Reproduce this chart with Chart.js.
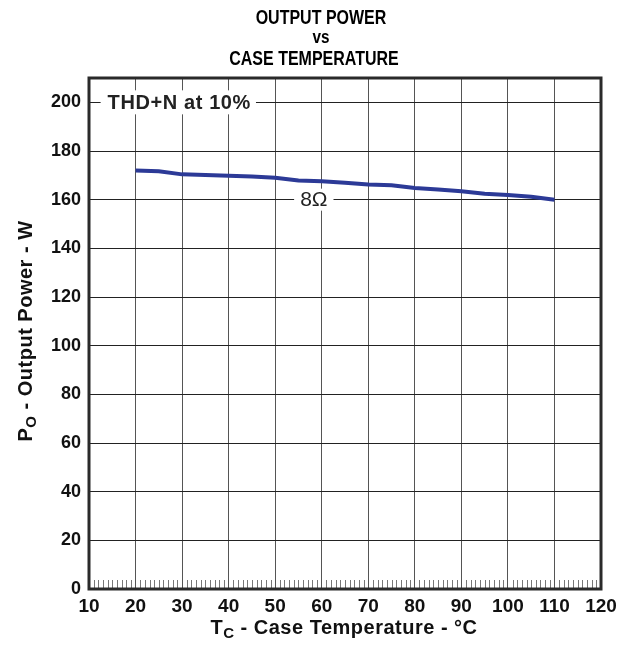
<!DOCTYPE html>
<html>
<head>
<meta charset="utf-8">
<script src="https://cdn.jsdelivr.net/npm/chart.js@4.4.0/dist/chart.umd.min.js"></script>
<style>
  body { margin: 0; background: #fff; }
  canvas { display: block; }
</style>
</head>
<body>
<canvas id="powerChart" width="628" height="646"></canvas>
<script>
// values
const caseTemp = [20, 25, 30, 35, 40, 45, 50, 55, 60, 65, 70, 75, 80, 85, 90, 95, 100, 105, 110];
const outputPower8 = [172, 171.7, 170.4, 170.1, 169.8, 169.5, 169, 167.9, 167.6, 167, 166.2, 165.9, 164.8, 164.2, 163.5, 162.4, 161.9, 161.2, 160];
const xTicks = [10, 20, 30, 40, 50, 60, 70, 80, 90, 100, 110, 120];
const yTicks = [0, 20, 40, 60, 80, 100, 120, 140, 160, 180, 200];
const titleLines = ['OUTPUT POWER', 'vs', 'CASE TEMPERATURE'];

const FONT = '"Liberation Sans", Arial, Helvetica, sans-serif';

// condensed bold text, like the narrow face of the original
function narrowText(ctx, text, x, y, size, squeeze) {
    ctx.save();
    ctx.font = 'bold ' + size + 'px ' + FONT;
    ctx.textAlign = 'center';
    ctx.textBaseline = 'middle';
    ctx.translate(x, y);
    ctx.scale(squeeze, 1);
    ctx.fillText(text, 0, 0);
    ctx.restore();
}

// draws title, axis titles (with subscripts), minor ticks, frame and labels
const decorations = {
    id: 'decorations',
    afterDatasetsDraw(chart) {
        const ctx = chart.ctx;
        const area = chart.chartArea;
        const xs = chart.scales.x;
        const ys = chart.scales.y;
        ctx.save();

        // minor ticks along the bottom
        ctx.strokeStyle = '#777';
        ctx.lineWidth = 1;
        for (let v = 11; v < 120; v++) {
            if (v % 10 === 0) continue;
            const px = Math.round(xs.getPixelForValue(v)) + 0.5;
            ctx.beginPath();
            ctx.moveTo(px, area.bottom);
            ctx.lineTo(px, area.bottom - 9);
            ctx.stroke();
        }

        // frame
        ctx.strokeStyle = '#2a2a2a';
        ctx.lineWidth = 3;
        ctx.strokeRect(area.left, area.top, area.right - area.left, area.bottom - area.top);

        // "THD+N at 10%" label on the 200 line
        ctx.font = 'bold 20px ' + FONT;
        ctx.letterSpacing = '0.6px';
        ctx.textBaseline = 'middle';
        ctx.textAlign = 'left';
        const lx = xs.getPixelForValue(14);
        const ly = ys.getPixelForValue(200);
        const lw = ctx.measureText('THD+N at 10%').width;
        ctx.fillStyle = '#fff';
        ctx.fillRect(lx - 7, ly - 12, lw + 12, 24);
        ctx.fillStyle = '#222';
        ctx.fillText('THD+N at 10%', lx, ly + 1);
        ctx.letterSpacing = '0px';

        // "8Ω" label on the 160 line
        ctx.font = '21px ' + FONT;
        ctx.textAlign = 'center';
        const ox = xs.getPixelForValue(58.3);
        const oy = ys.getPixelForValue(160);
        const ow = ctx.measureText('8Ω').width;
        ctx.fillStyle = '#fff';
        ctx.fillRect(ox - ow / 2 - 6, oy - 11, ow + 12, 22);
        ctx.fillStyle = '#222';
        ctx.fillText('8Ω', ox, oy + 1);

        // chart title
        ctx.fillStyle = '#000';
        narrowText(ctx, titleLines[0], 321, 18, 20, 0.8);
        narrowText(ctx, titleLines[1], 321, 38, 18, 0.85);
        narrowText(ctx, titleLines[2], 314, 59, 20, 0.8);

        // x axis title with subscript
        drawSubTitle(ctx, 'T', 'C', ' - Case Temperature - °C', 344, 628);

        // y axis title, rotated
        ctx.save();
        ctx.translate(26, 331);
        ctx.rotate(-Math.PI / 2);
        drawSubTitle(ctx, 'P', 'O', ' - Output Power - W', 0, 0);
        ctx.restore();

        ctx.restore();
    }
};

function drawSubTitle(ctx, main, sub, rest, cx, cy) {
    const big = 'bold 20px ' + FONT;
    const small = 'bold 15px ' + FONT;
    ctx.letterSpacing = '0.5px';
    ctx.font = big;
    const w1 = ctx.measureText(main).width;
    const w3 = ctx.measureText(rest).width;
    ctx.font = small;
    const w2 = ctx.measureText(sub).width;
    let x = cx - (w1 + w2 + w3) / 2;
    ctx.textAlign = 'left';
    ctx.textBaseline = 'middle';
    ctx.fillStyle = '#111';
    ctx.font = big;
    ctx.fillText(main, x, cy);
    x += w1;
    ctx.font = small;
    ctx.fillText(sub, x, cy + 6);
    x += w2;
    ctx.font = big;
    ctx.fillText(rest, x, cy);
    ctx.letterSpacing = '0px';
}

const ctx = document.getElementById('powerChart').getContext('2d');
const chart = new Chart(ctx, {
    type: 'line',
    data: {
        datasets: [{
            label: '8Ω',
            data: caseTemp.map((t, i) => ({ x: t, y: outputPower8[i] })),
            borderColor: '#2c3a97',
            borderWidth: 4,
            pointRadius: 0,
            tension: 0,
            fill: false
        }]
    },
    options: {
        responsive: false,
        animation: false,
        layout: {
            padding: { top: 78, right: 27, left: 0, bottom: 0 }
        },
        plugins: {
            legend: { display: false },
            title: { display: false },
            tooltip: { enabled: false }
        },
        scales: {
            x: {
                type: 'linear',
                min: 10,
                max: 120,
                afterBuildTicks: (scale) => {
                    scale.ticks = xTicks.map(v => ({ value: v }));
                },
                afterFit: (scale) => { scale.height = 57; },
                grid: {
                    color: '#555',
                    lineWidth: 1,
                    drawTicks: false
                },
                border: { display: false },
                ticks: {
                    color: '#111',
                    padding: 6,
                    maxRotation: 0,
                    autoSkip: false,
                    font: { family: FONT, size: 19, weight: 'bold' }
                }
            },
            y: {
                min: 0,
                max: 210,
                afterBuildTicks: (scale) => {
                    scale.ticks = yTicks.map(v => ({ value: v }));
                },
                afterFit: (scale) => { scale.width = 89; },
                grid: {
                    color: '#222',
                    lineWidth: 1,
                    drawTicks: false
                },
                border: { display: false },
                ticks: {
                    color: '#111',
                    padding: 8,
                    autoSkip: false,
                    font: { family: FONT, size: 18, weight: 'bold' }
                }
            }
        }
    },
    plugins: [decorations]
});
</script>
</body>
</html>
